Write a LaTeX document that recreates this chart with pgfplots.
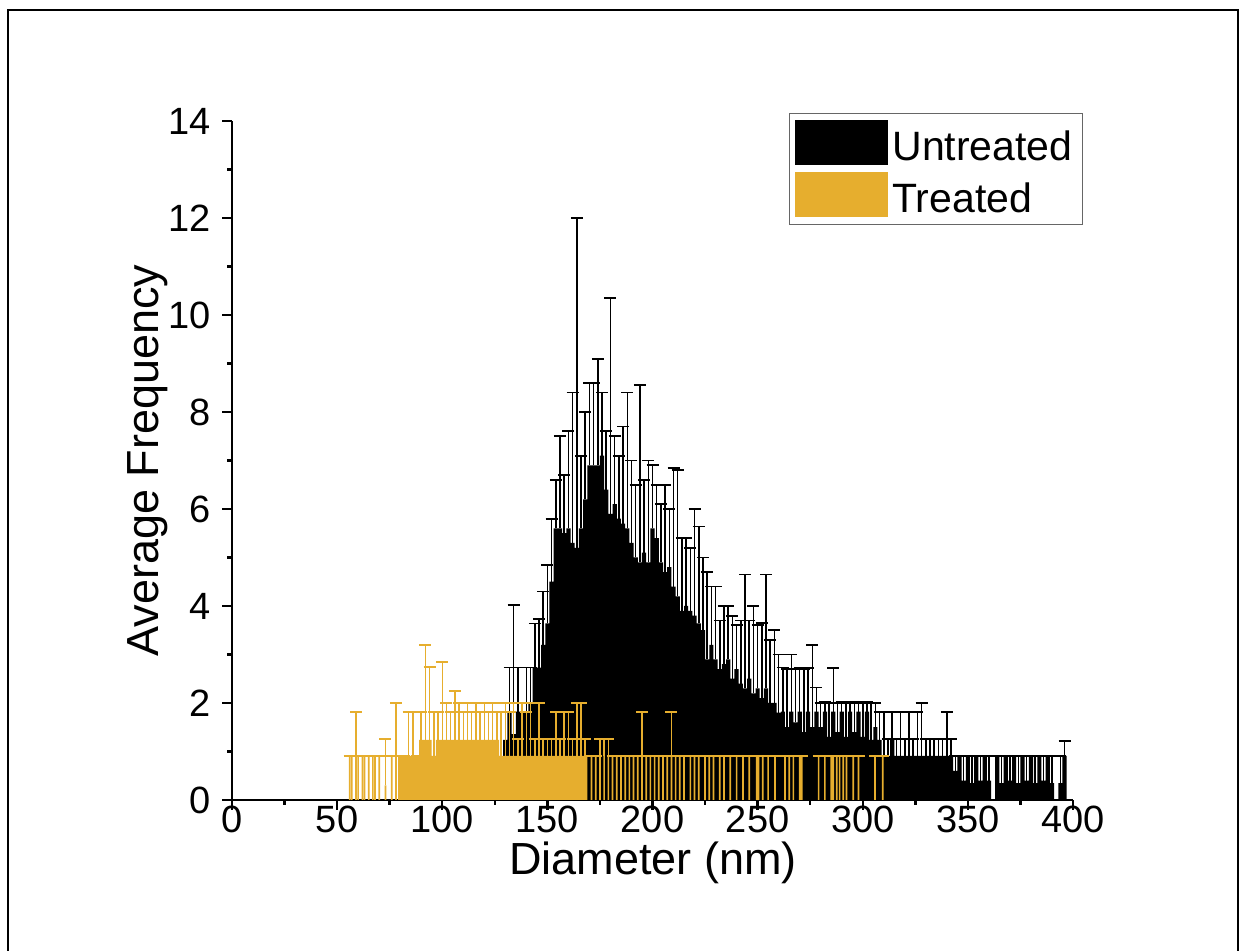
\documentclass[border=0pt]{standalone}
\usepackage{fontspec}
\setmainfont{Liberation Sans}
\usepackage{pgfplots}
\usepackage{pgfplotstable}
\pgfplotsset{compat=1.18}
\definecolor{treat}{RGB}{230,174,46}

\pgfplotstableread{
x y e
130 1.24 0.58
132 1.82 0.91
134 1.36 2.66
136 1.82 0.91
138 1.82 0.18
140 1.82 0.91
142 2.00 0.73
144 2.73 0.91
146 2.73 1.00
148 3.20 1.10
150 3.64 1.20
152 4.50 1.30
154 5.60 1.00
156 5.60 1.90
158 5.50 1.20
160 5.60 2.00
162 5.30 3.10
164 5.20 6.80
166 5.60 1.50
168 6.20 1.80
170 6.90 1.70
172 6.90 1.70
174 6.90 2.20
176 7.10 1.30
178 6.40 1.20
180 5.90 4.45
182 6.10 1.40
184 5.80 1.30
186 5.70 2.00
188 5.60 2.80
190 5.30 1.70
192 5.00 1.50
194 4.90 3.65
196 5.10 1.50
198 4.90 2.10
200 5.60 1.30
202 5.40 1.10
204 4.90 1.20
206 4.70 1.80
208 4.80 1.20
210 4.40 2.45
212 4.20 2.60
214 3.90 1.50
216 4.00 1.40
218 3.90 1.30
220 3.80 2.20
222 3.64 2.00
224 3.50 1.50
226 2.90 1.80
228 3.20 1.20
230 2.90 1.50
232 2.70 1.00
234 2.80 1.20
236 2.90 1.10
238 2.50 1.30
240 2.70 0.90
242 2.40 1.30
244 2.30 2.35
246 2.50 1.20
248 2.20 1.80
250 2.30 1.30
252 2.10 1.55
254 2.30 2.35
256 2.00 1.30
258 2.00 1.50
260 1.80 1.20
262 1.82 0.91
264 1.50 1.20
266 1.82 1.18
268 1.60 1.10
270 1.82 0.90
272 1.40 1.30
274 1.82 0.90
276 1.50 1.70
278 1.82 0.50
280 1.50 0.50
282 1.82 0.20
284 1.30 0.70
286 1.82 0.90
288 1.40 0.60
290 1.82 0.20
292 1.30 0.70
294 1.82 0.20
296 1.40 0.60
298 1.82 0.20
300 1.30 0.70
302 1.82 0.20
304 1.24 0.76
306 1.50 0.50
308 1.24 0.58
310 0.91 0.91
312 0.91 0.35
314 1.24 0.58
316 0.91 0.35
318 0.91 0.91
320 0.91 0.35
322 0.91 0.91
324 0.91 0.35
326 0.91 0.91
328 0.91 1.09
330 0.91 0.35
332 0.91 0.35
334 0.91 0.35
336 0.91 0.35
338 0.91 0.35
340 0.91 0.91
342 0.91 0.35
344 0.60 0.31
346 0.91 0.00
348 0.40 0.51
350 0.91 0.00
352 0.35 0.56
354 0.91 0.00
356 0.40 0.51
358 0.91 0.00
360 0.40 0.51
364 0.91 0.00
366 0.35 0.56
368 0.91 0.00
370 0.40 0.51
372 0.91 0.00
374 0.35 0.56
376 0.91 0.00
378 0.40 0.51
380 0.91 0.00
382 0.35 0.56
384 0.91 0.00
386 0.40 0.51
388 0.91 0.00
390 0.35 0.56
394 0.35 0.56
396 0.91 0.30
}\untreated

\pgfplotstableread{
x y e
80 0.91 0.00
82 0.91 0.00
84 0.91 0.91
86 0.91 0.91
88 0.91 0.00
90 1.24 0.58
92 1.24 1.96
94 1.24 1.50
96 0.91 0.91
98 1.24 0.58
100 1.24 1.60
102 1.24 0.76
104 1.24 0.58
106 1.24 1.00
108 1.24 0.76
110 1.24 0.58
112 1.24 0.76
114 1.24 0.58
116 1.24 0.76
118 1.24 0.58
120 1.24 0.76
122 1.24 0.58
124 1.24 0.76
126 1.24 0.58
128 0.91 0.91
130 0.91 1.09
132 0.91 0.91
134 0.91 1.09
136 0.91 0.35
138 0.91 1.09
140 0.91 0.91
142 0.91 1.09
144 0.91 0.35
146 0.91 1.09
148 0.91 0.35
150 0.91 0.35
152 0.91 0.35
154 0.91 0.91
156 0.91 0.35
158 0.91 0.91
160 0.91 0.91
162 0.91 0.35
164 0.91 1.09
166 0.91 1.09
168 0.91 0.35
}\treateddense

\pgfplotstableread{
x y e
56 0.91 0.00
57 0.91 0.00
59 0.91 0.91
60 0.91 0.00
62 0.91 0.00
63 0.91 0.00
65 0.91 0.00
67 0.91 0.00
68 0.91 0.00
70 0.91 0.00
73 0.30 0.96
76 0.91 0.00
78 0.91 1.09
171 0.91 0.00
173 0.91 0.00
175 0.91 0.35
177 0.91 0.35
179 0.91 0.35
181 0.91 0.00
183 0.91 0.00
185 0.91 0.00
187 0.91 0.00
189 0.91 0.00
191 0.91 0.00
193 0.91 0.00
195 0.91 0.91
197 0.91 0.00
199 0.91 0.00
201 0.91 0.00
203 0.91 0.00
205 0.91 0.00
207 0.91 0.00
209 0.91 0.91
211 0.91 0.00
213 0.91 0.00
215 0.91 0.00
218 0.91 0.00
220 0.91 0.00
222 0.91 0.00
225 0.91 0.00
227 0.91 0.00
229 0.91 0.00
232 0.91 0.00
234 0.91 0.00
237 0.91 0.00
240 0.91 0.00
243 0.91 0.00
246 0.91 0.00
249.6 0.91 0.00
250.4 0.91 0.00
252.4 0.91 0.00
255 0.91 0.00
258.3 0.91 0.00
263 0.91 0.00
265 0.91 0.00
267 0.91 0.00
270 0.91 0.00
271 0.91 0.00
279 0.91 0.00
282 0.91 0.00
285 0.91 0.00
286 0.91 0.00
287.6 0.91 0.00
289 0.91 0.00
290.7 0.91 0.00
292.3 0.91 0.00
295.5 0.91 0.00
298 0.91 0.00
305.8 0.91 0.00
309.5 0.91 0.00
}\treatedsparse

\begin{document}
\begin{tikzpicture}
\useasboundingbox (0pt,0pt) rectangle (621.5pt,475.5pt);
\draw[line width=1pt] (4pt,-2pt) -- (4pt,470.5pt) -- (619pt,470.5pt) -- (619pt,-2pt);
\begin{axis}[
  at={(116pt,75.5pt)}, anchor=south west,
  scale only axis, width=420.5pt, height=339.5pt,
  xmin=0, xmax=400, ymin=0, ymax=14,
  axis x line*=bottom, axis y line*=left,
  axis line style={line width=1.2pt, -},
  xtick={0,50,...,400}, minor x tick num=1,
  ytick={0,2,...,14}, minor y tick num=1,
  tick align=outside,
  major tick length=5pt, minor tick length=2.5pt,
  every tick/.style={line width=1.2pt, black},
  /pgf/number format/assume math mode=true,
  ticklabel style={font=\fontsize{19}{22}\selectfont},
  xticklabel style={yshift=3pt, inner ysep=1pt},
  yticklabel style={xshift=-2pt},
  xlabel={Diameter (nm)}, ylabel={Average Frequency},
  label style={font=\fontsize{22.5}{26}\selectfont, inner sep=0pt},
  xlabel style={at={(axis description cs:0.5006,-0.093)}, anchor=center},
  ylabel style={at={(axis description cs:-0.10,0.5)}, anchor=center},
  legend style={at={(1.012,1.012)}, anchor=north east, draw=gray!80!black, line width=0.6pt,
    font=\fontsize{20.5}{24}\selectfont, inner xsep=3pt, inner ysep=3.5pt, row sep=3.5pt,
    nodes={inner ysep=1pt}},
  legend cell align=left,
]
\addlegendimage{legend image code/.code={\fill[black] (0pt,-8.5pt) rectangle (46pt,13pt);}}
\addlegendentry{Untreated}
\addlegendimage{legend image code/.code={\fill[treat] (0pt,-8.5pt) rectangle (46pt,13pt);}}
\addlegendentry{Treated}

\addplot[ybar, bar width=2, bar shift=0pt, fill=black, draw=none, forget plot,
  error bars/.cd, y dir=plus, y explicit,
  error bar style={black, line width=0.75pt},
  error mark options={rotate=90, black, line width=0.9pt, mark size=3pt}]
  table[x=x, y=y, y error=e] {\untreated};
\addplot[ybar, bar width=2, bar shift=0pt, fill=treat, draw=none, forget plot,
  error bars/.cd, y dir=plus, y explicit,
  error bar style={treat, line width=0.75pt},
  error mark options={rotate=90, treat, line width=0.9pt, mark size=3pt}]
  table[x=x, y=y, y error=e] {\treateddense};
\addplot[ybar, bar width=0.8, bar shift=0pt, fill=treat, draw=none, forget plot,
  error bars/.cd, y dir=plus, y explicit,
  error bar style={treat, line width=0.75pt},
  error mark options={rotate=90, treat, line width=0.9pt, mark size=3pt}]
  table[x=x, y=y, y error=e] {\treatedsparse};
\end{axis}
\end{tikzpicture}
\end{document}
